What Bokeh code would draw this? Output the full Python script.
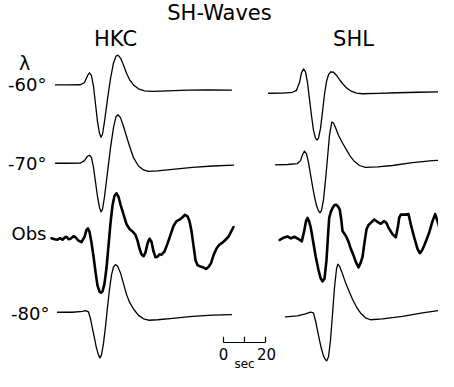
from bokeh.plotting import figure
from bokeh.models import Range1d
from bokeh.core.properties import value
from bokeh.embed import file_html
from bokeh.resources import INLINE

# ---------------- data: time (s) from trace start, relative amplitude ----------------
HKC_60_T = [1.43, 7.14, 13.33, 15.24, 16.67, 17.62, 18.57, 19.52, 20.48, 21.43, 22.38, 23.10, 23.81, 24.76,
            26.19, 27.62, 29.05, 30.24, 31.19, 32.38, 33.81, 35.24, 36.67, 38.57, 40.95, 43.81, 47.62,
            54.76, 64.29, 73.81, 85.24]
HKC_60_A = [0, 0, 0.2, 2.5, 9.5, 12.5, 9.5, -1.5, -19.5, -37.5, -49.5, -53.5, -50.5, -37.5,
            -14.5, 6.5, 22.5, 29.5, 30.5, 27.5, 20.5, 12, 5.5, 0, -4, -6, -6.5,
            -6, -5.3, -5, -5.2]

HKC_70_T = [1.43, 7.14, 13.33, 15.24, 16.67, 17.62, 18.57, 19.52, 20.48, 21.43, 22.38, 23.10, 23.81, 24.76,
            26.19, 27.62, 29.05, 30.24, 31.19, 32.38, 33.81, 35.24, 36.67, 38.57, 40.95, 43.33, 45.71,
            50.0, 57.14, 66.67, 76.19, 86.19]
HKC_70_A = [0, 0, 0.2, 2.7, 7.2, 8.2, 5.7, -4.3, -19.3, -34.3, -45.3, -49.8, -47.3, -34.3,
            -9.3, 15.7, 36.7, 47.7, 49.7, 46.7, 37.7, 27.7, 17.7, 5.7, -2.8, -6.8, -8.3,
            -7.8, -6.3, -4.3, -2.8, -2.0]

HKC_OBS_T = [-0.48, 0.95, 2.38, 3.57, 4.76, 5.71, 6.67, 7.62, 8.57, 10.0, 10.95, 12.38, 13.81, 15.24,
             16.19, 16.90, 17.62, 18.57, 19.52, 20.48, 21.43, 22.38, 23.10, 23.81, 24.76, 25.71, 26.67,
             27.62, 28.57, 29.52, 30.48, 31.43, 32.38, 33.81, 35.24, 36.67, 38.10, 39.52, 40.48, 41.43,
             42.38, 43.33, 44.29, 45.24, 46.19, 47.14, 48.10, 49.05, 50.0, 50.95, 51.90, 53.33, 54.76,
             56.19, 57.62, 59.05, 60.48, 61.90, 63.10, 64.29, 65.24, 66.19, 67.14, 68.10, 69.05, 70.48,
             71.90, 73.10, 74.29, 75.48, 76.67, 78.10, 79.52, 80.95, 82.38, 83.81, 85.0, 86.19]
HKC_OBS_A = [0.5, -0.5, -1, 0.5, -1, 1, 2, -0.5, 0, 2.5, 1.5, -2, -3.5, 2,
             9, 10.5, 7, -4, -18, -34, -48, -54, -55.5, -54, -46, -30, -7,
             16, 34, 44, 46.5, 43, 35, 25, 15, 10, 7.5, 4, -2, -10,
             -16, -18, -14, -5, 0, -3, -13, -19, -18.5, -16, -16.5, -13, -5,
             4, 13, 18, 19.5, 22, 24.5, 23, 18, 8, -7, -22, -27, -28.5,
             -29.5, -31, -29, -25, -17, -10, -6, -4, -1, 2, 7, 12]

HKC_80_T = [2.38, 9.52, 14.29, 15.71, 17.14, 18.10, 19.05, 20.0, 20.95, 21.90, 22.62, 23.33, 24.29, 25.24,
            26.19, 27.14, 28.10, 29.05, 30.0, 30.95, 32.38, 33.81, 35.24, 36.67, 38.57, 40.95, 43.33,
            45.71, 50.0, 57.14, 66.67, 76.19, 85.24]
HKC_80_A = [0, 0, 0.8, 1.6, 0.3, -6.7, -16.7, -26.7, -36.7, -43.7, -46.7, -43.7, -31.7, -14.7,
            5.3, 23.3, 38.3, 46.3, 48.8, 47.3, 40.3, 29.3, 18.3, 10.3, 3.3, -3.2, -6.7,
            -8.2, -7.7, -6.2, -4.2, -3.0, -2.4]

SHL_60_T = [0.0, 6.67, 11.43, 13.33, 14.76, 15.71, 16.67, 17.62, 18.57, 19.52, 20.48, 21.43, 22.38, 23.10,
            23.81, 24.76, 25.71, 26.67, 27.62, 28.57, 29.76, 30.95, 32.38, 33.81, 35.24, 37.14, 39.05,
            41.90, 44.76, 51.90, 61.43, 70.95, 84.29]
SHL_60_A = [0, 0.2, 1, 3, 11, 21, 25, 22, 11, -6, -23, -38, -46, -48,
            -46, -36, -19, -1, 12, 19, 22, 21.5, 18.5, 14, 10, 5.5, 2.5,
            0.2, -0.5, -0.2, 0.5, 1, 1.5]

SHL_70_T = [3.33, 9.05, 13.81, 15.24, 16.19, 17.14, 18.10, 19.05, 20.0, 20.95, 21.90, 22.86, 23.81, 24.52,
            25.24, 26.19, 27.14, 28.10, 29.05, 30.14, 30.95, 31.90, 33.33, 35.24, 37.14, 39.05, 40.95,
            43.33, 46.19, 51.90, 59.05, 68.57, 78.10, 84.29]
SHL_70_A = [0, 0.3, 1.3, 4.3, 10.3, 14, 11.3, 2.3, -9.7, -21.7, -32.7, -41.7, -47.2, -49.2,
            -46.7, -35.7, -15.7, 7.3, 30.3, 43.8, 42.8, 38.3, 30.3, 22.3, 15.3, 8.3, 3.3,
            -0.7, -2.7, -2.2, -0.7, 2.3, 4.3, 5.0]

SHL_OBS_T = [5.38, 7.48, 9.05, 10.62, 12.24, 14.29, 15.86, 17.0, 17.86, 18.57, 19.29, 20.14, 21.19, 22.52,
             23.81, 24.76, 25.71, 26.67, 27.62, 28.33, 28.90, 29.76, 30.48, 31.43, 32.38, 33.10, 33.95,
             34.62, 35.24, 36.81, 38.10, 39.19, 40.48, 41.57, 42.86, 43.81, 44.76, 45.71, 46.67, 47.62,
             48.71, 50.33, 51.90, 53.48, 55.10, 56.19, 57.14, 59.05, 60.62, 61.67, 62.24, 63.0, 65.10,
             66.67, 67.76, 69.38, 70.95, 72.05, 73.10, 74.14, 75.24, 76.52, 78.10, 79.38, 80.95, 82.52,
             84.43]
SHL_OBS_A = [-1.3, 1.3, 2.3, 0.3, 2, -0.3, -2.7, 8, 18, 21.3, 18, 11.3, -2, -18.7,
             -32, -40, -43.7, -41, -22, 3, 21.3, 28, 31.3, 34.5, 34.7, 33, 29.7,
             20, 8, 3, -3, -10.3, -17, -23.7, -29.3, -25, -18.7, -4, 9.7, 14,
             16.3, 19.7, 17.3, 15.3, 18, 16, 11.3, 4.7, 1.3, 13, 21.3, 24.7, 24.7,
             25.3, 14.7, 1.3, -10.3, -14.7, -12, -7, -1, 6.3, 18, 25.3, 14.7, 1.3,
             -3.7]

SHL_80_T = [8.10, 13.81, 17.62, 20.0, 21.43, 22.38, 23.33, 24.29, 25.24, 26.19, 27.14, 27.76, 28.57, 29.52,
            30.48, 31.43, 32.38, 33.0, 33.81, 35.24, 36.67, 38.33, 40.0, 41.90, 43.81, 46.19, 48.57,
            54.29, 63.81, 73.33, 84.29]
SHL_80_A = [0, 1, 3, 4.7, 4, -4, -14, -24, -33, -40, -44, -45, -41, -24,
            3, 30, 49, 54, 52, 44, 35, 26.5, 18, 10, 4, -1, -3,
            -2, 0.5, 4, 7.5]

STATIONS = ["HKC", "SHL"]
ROW_LABELS = ["-60°", "-70°", "Obs", "-80°"]
SCALE_TICKS = [0, 10, 20]          # seconds

# ---------------- layout (reference pixel frame, 2.1 px per second) ----------------
PX_PER_SEC = 2.1
LEFT_PX = 8.0
W, H = 438, 371

def sx(px):
    return (px - LEFT_PX) / PX_PER_SEC

p = figure(width=W, height=H, output_backend="svg", toolbar_location=None,
           x_range=Range1d(0, W / PX_PER_SEC), y_range=Range1d(-384, -4),
           x_axis_type=None, y_axis_type=None, min_border=0)
p.grid.visible = False
p.outline_line_color = None
p.background_fill_color = "white"
p.border_fill_color = "white"

panel_x0 = {"HKC": 60.0, "SHL": 276.0}
traces = [
    ("HKC", HKC_60_T, HKC_60_A, 90.5, 1.3),
    ("HKC", HKC_70_T, HKC_70_A, 170.7, 1.3),
    ("HKC", HKC_OBS_T, HKC_OBS_A, 248.0, 2.6),
    ("HKC", HKC_80_T, HKC_80_A, 323.3, 1.3),
    ("SHL", SHL_60_T, SHL_60_A, 99.0, 1.3),
    ("SHL", SHL_70_T, SHL_70_A, 172.3, 1.3),
    ("SHL", SHL_OBS_T, SHL_OBS_A, 248.0, 2.6),
    ("SHL", SHL_80_T, SHL_80_A, 328.0, 1.3),
]
for st, t, a, base, lw in traces:
    off = sx(panel_x0[st])
    xs = [off + v for v in t]
    ys = [-base + v for v in a]
    p.line(xs, ys, line_color="black", line_width=lw, line_join="round", line_cap="round")

FONT = value("DejaVu Sans")

# title and station names
p.text(x=[sx(227)], y=[-17], text=["SH-Waves"], text_font=FONT, text_font_size="21px",
       text_align="center", text_baseline="middle", text_color="black")
p.text(x=[sx(123), sx(361)], y=[-43, -43], text=STATIONS, text_font=FONT, text_font_size="21px",
       text_align="center", text_baseline="middle", text_color="black")

# row labels
p.text(x=[sx(32)], y=[-68], text=["λ"], text_font=FONT, text_font_size="19px",
       text_align="center", text_baseline="middle", text_color="black")
row_y = [-90, -171, -243, -325]
row_x = [sx(54), sx(54), sx(54), sx(57)]
p.text(x=row_x, y=row_y, text=ROW_LABELS, text_font=FONT, text_font_size="18px",
       text_align="right", text_baseline="middle", text_color="black")

# time scale bar
bar_x0 = sx(231)
bar_y = -354.3
p.line([bar_x0 + SCALE_TICKS[0], bar_x0 + SCALE_TICKS[-1]], [bar_y, bar_y], line_color="black", line_width=1.2)
p.segment(x0=[bar_x0 + s for s in SCALE_TICKS], y0=[bar_y] * len(SCALE_TICKS),
          x1=[bar_x0 + s for s in SCALE_TICKS], y1=[bar_y + 6] * len(SCALE_TICKS),
          line_color="black", line_width=1.2)
p.text(x=[bar_x0 + SCALE_TICKS[0], bar_x0 + SCALE_TICKS[-1] + 0.5], y=[-366.5, -366.5],
       text=[str(SCALE_TICKS[0]), str(SCALE_TICKS[-1])], text_font=FONT, text_font_size="15px",
       text_align="center", text_baseline="middle", text_color="black")
p.text(x=[bar_x0 + SCALE_TICKS[1]], y=[-376.5], text=["sec"], text_font=FONT, text_font_size="12px",
       text_align="center", text_baseline="middle", text_color="black")

open("out.html", "w").write(file_html(p, INLINE))
